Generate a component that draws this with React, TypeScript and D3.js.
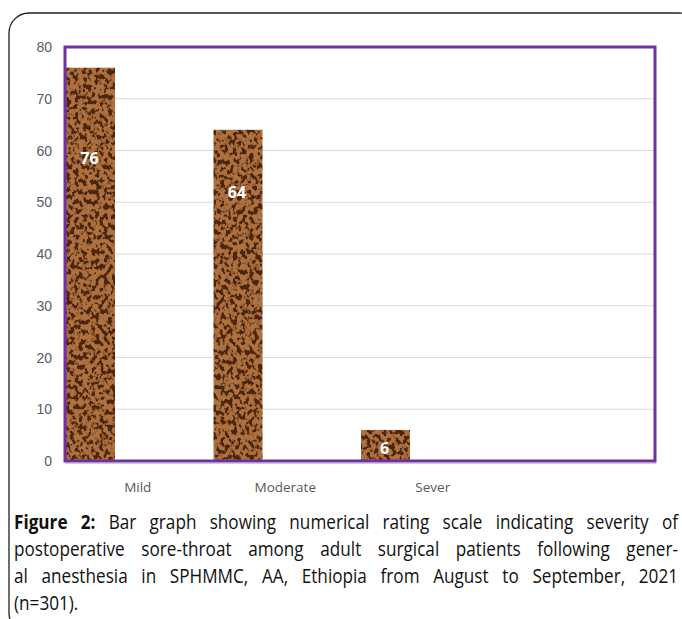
import React, { useEffect, useRef } from "react";
import * as d3 from "d3";

const categories = ["Mild", "Moderate", "Sever", ""];
const values = [76, 64, 6, null];
const labelAt = [58.5, 52, 2.5, null];
const yTicks = [0, 10, 20, 30, 40, 50, 60, 70, 80];
const captionBold = "Figure 2:";
const captionLines = [
  " Bar graph showing numerical rating scale indicating severity of",
  "postoperative sore-throat among adult surgical patients following gener-",
  "al anesthesia in SPHMMC, AA, Ethiopia from August to September, 2021",
  "(n=301).",
];

export default function App() {
  const W = 682, H = 619;
  const left = 65, right = 655, top = 47, bottom = 461;
  const x = d3.scaleBand().domain(categories.map((c, i) => String(i))).range([left, right]);
  const y = d3.scaleLinear().domain([0, 80]).range([bottom, top]);
  const bw = 49;
  const sx = 0.88;
  const capRef = useRef<SVGGElement>(null);

  useEffect(() => {
    const g = capRef.current;
    if (!g) return;
    const target = 664 / sx;
    d3.select(g).selectAll<SVGTextElement, unknown>("text").each(function (_, i) {
      if (i >= 3) return;
      const len = this.getComputedTextLength();
      const full = (this.textContent || "");
      const spaces = (full.match(/ /g) || []).length;
      if (spaces > 0 && len < target) {
        this.setAttribute("word-spacing", String((target - len) / spaces));
      } else if (len > target) {
        this.setAttribute("textLength", String(target));
        this.setAttribute("lengthAdjust", "spacingAndGlyphs");
      }
    });
  }, []);

  return (
    <svg width={W} height={H} style={{ position: "absolute", left: 0, top: 0 }}>
      <defs>
        <filter id="tex" x="0" y="0" width="100%" height="100%">
          <feTurbulence type="fractalNoise" baseFrequency="0.24 0.2" numOctaves="2" seed="7" result="n" />
          <feColorMatrix in="n" type="matrix"
            values="0 0 0 0 0  0 0 0 0 0  0 0 0 0 0  1.8 0 0 0 -0.45" result="a" />
          <feComponentTransfer in="a" result="t">
            <feFuncA type="table" tableValues="0 0 0 0.7 1 1 1 1" />
          </feComponentTransfer>
          <feFlood floodColor="#b0713f" result="lite" />
          <feComposite in="lite" in2="t" operator="in" result="spots" />
          <feFlood floodColor="#4a2810" result="dark" />
          <feMerge>
            <feMergeNode in="dark" />
            <feMergeNode in="spots" />
          </feMerge>
          <feComposite in2="SourceGraphic" operator="in" />
        </filter>
      </defs>
      <rect x={0} y={0} width={W} height={H} fill="#fff" />
      <rect x={9} y={13} width={690} height={620} rx={20} fill="none" stroke="#222" strokeWidth={1.3} />
      {yTicks.filter(t => t > 0 && t < 80).map(t => (
        <line key={t} x1={left} x2={right} y1={y(t)} y2={y(t)} stroke="#d9d9d9" strokeWidth={1.2} />
      ))}
      {yTicks.map(t => (
        <text key={t} x={52} y={y(t) + 5} textAnchor="end" fontFamily="Liberation Sans, Arial" fontSize={14} fill="#5a5a6a">{t}</text>
      ))}
      {values.map((v, i) => v == null ? null : (
        <rect key={i} x={(x(String(i)) as number) + 1} y={y(v)} width={bw} height={bottom - y(v)} fill="#8b5a2b" filter="url(#tex)" />
      ))}
      {values.map((v, i) => v == null ? null : (
        <text key={"l" + i} x={(x(String(i)) as number) + 1 + bw / 2 - 1} y={y(labelAt[i] as number) + 6}
          textAnchor="middle" fontFamily="Open Sans, sans-serif" fontWeight="bold" fontSize={16} fill="#fff">{v}</text>
      ))}
      <rect x={left} y={top} width={right - left} height={bottom - top} fill="none" stroke="#7030a0" strokeWidth={3} />
      <line x1={left} x2={right + 1} y1={bottom + 2} y2={bottom + 2} stroke="#a98cc8" strokeWidth={1} />
      {categories.map((c, i) => (
        <text key={"c" + i} x={(x(String(i)) as number) + x.bandwidth() / 2 - 1} y={492} textAnchor="middle"
          fontFamily="Open Sans, sans-serif" fontSize={13.5} fill="#595959">{c}</text>
      ))}
      <g ref={capRef} transform={`translate(14,0) scale(${sx},1)`}>
        {captionLines.map((l, i) => (
          <text key={"cap" + i} x={0} y={529 + i * 27} fontFamily="Open Sans, sans-serif" fontSize={19.5} fill="#111">
            {i === 0 ? <tspan fontWeight="bold">{captionBold}</tspan> : null}
            {l}
          </text>
        ))}
      </g>
    </svg>
  );
}
